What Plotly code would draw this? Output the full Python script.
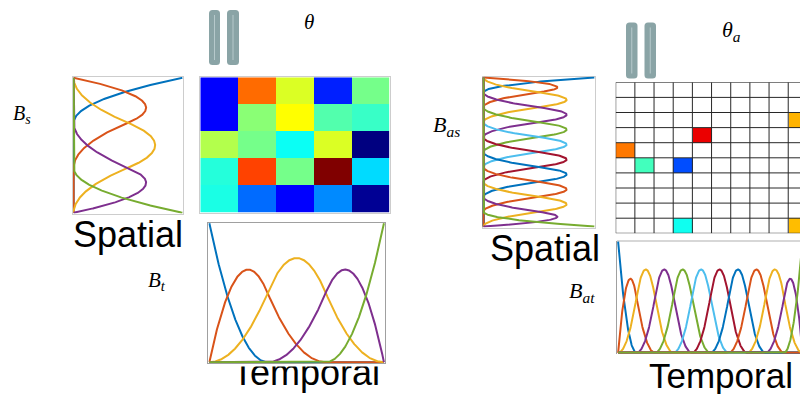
import numpy as np
import plotly.graph_objects as go

W, H = 800, 394

# ---- data -------------------------------------------------------------
# quadratic B-spline bases (clamped knot vectors)
spline_degree = 2
coarse_interior_knots = [1 / 3, 2 / 3]
fine_interior_knots = [0.1, 0.2, 0.3, 0.4, 0.5, 0.6, 0.7, 0.8, 0.9]

# coefficient matrix theta (5 x 5), jet colour values
theta = [
    [0.125, 0.77, 0.59, 0.155, 0.49],
    [0.125, 0.51, 0.625, 0.455, 0.43],
    [0.55, 0.49, 0.385, 0.59, 0.0],
    [0.41, 0.81, 0.49, 1.0, 0.34],
    [0.40, 0.23, 0.125, 0.26, 0.02],
]

# sparse coefficient matrix theta_a: (row, col, value)
theta_a_rows = [2, 3, 4, 5, 5, 9, 9]
theta_a_cols = [9, 4, 0, 1, 3, 3, 9]
theta_a_vals = [0.70, 0.895, 0.757, 0.44, 0.20, 0.39, 0.69]
theta_a_shape = (10, 10)

line_colors = ["#0072BD", "#D95319", "#EDB120", "#7E2F8E",
               "#77AC30", "#4DBEEE", "#A2142F"]

jet = [[0.0, "rgb(0,0,128)"], [0.125, "rgb(0,0,255)"],
       [0.375, "rgb(0,255,255)"], [0.625, "rgb(255,255,0)"],
       [0.875, "rgb(255,0,0)"], [1.0, "rgb(128,0,0)"]]


def bspline_basis(interior, degree, t):
    knots = np.r_[[0.0] * (degree + 1), interior, [1.0] * (degree + 1)]
    n = len(knots) - degree - 1
    # degree-0 pieces
    B = np.zeros((len(knots) - 1, len(t)))
    for i in range(len(knots) - 1):
        if knots[i] < knots[i + 1]:
            B[i] = (t >= knots[i]) & (t < knots[i + 1])
    last = np.max(np.nonzero(knots[:-1] < knots[1:]))
    B[last, t >= 1.0] = 1.0
    for p in range(1, degree + 1):
        Bn = np.zeros((len(knots) - p - 1, len(t)))
        for i in range(len(knots) - p - 1):
            d1 = knots[i + p] - knots[i]
            d2 = knots[i + p + 1] - knots[i + 1]
            a = (t - knots[i]) / d1 * B[i] if d1 > 0 else 0
            b = (knots[i + p + 1] - t) / d2 * B[i + 1] if d2 > 0 else 0
            Bn[i] = a + b
        B = Bn
    return B[:n]


t = np.linspace(0, 1, 601)
coarse = bspline_basis(coarse_interior_knots, spline_degree, t)
fine = bspline_basis(fine_interior_knots, spline_degree, t)


def px(x):
    return x / W


def py(y):
    return 1 - y / H


fig = go.Figure()

# ---- axes -------------------------------------------------------------
light = "rgb(205,205,205)"
mid = "rgb(160,160,160)"


def frame_axis(dom, rng, color, mirror=True, reverse=False, show=True):
    d = dict(domain=dom, range=rng, showgrid=False, zeroline=False,
             showticklabels=False, ticks="", showline=show, linecolor=color,
             linewidth=1, mirror=mirror, layer="below traces", fixedrange=True)
    if reverse:
        d["range"] = rng[::-1]
    return d


pad = 0.006
layout_axes = {
    # left spatial basis (rotated)
    "xaxis": frame_axis([px(73), px(183)], [-pad, 1 + pad], light),
    "yaxis": frame_axis([py(213.5), py(77)], [-pad, 1 + pad], light, reverse=True),
    # left coefficient image
    "xaxis2": frame_axis([px(200.3), px(389.5)], [-0.5, 4.5], light),
    "yaxis2": frame_axis([py(212.7), py(77.3)], [-0.5, 4.5], light, reverse=True),
    # left temporal basis
    "xaxis3": frame_axis([px(208.3), px(385)], [-pad, 1 + pad], mid),
    "yaxis3": frame_axis([py(363), py(222.5)], [-pad, 1 + pad], mid),
    # right spatial basis (rotated)
    "xaxis4": frame_axis([px(482.7), px(595)], [-pad, 1 + pad], light),
    "yaxis4": frame_axis([py(227.5), py(76.5)], [-pad, 1 + pad], light, reverse=True),
    # right sparse coefficient grid
    "xaxis5": frame_axis([px(615.7), 1.0], [-0.5, -0.5 + (800 - 615.7) / 19.17], light, show=False),
    "yaxis5": frame_axis([py(233.3), py(82.3)], [-0.5, 9.5], light, reverse=True, show=False),
    # right temporal basis
    "xaxis6": frame_axis([px(617), 1.0], [-pad, 183 / 185.5], light, mirror=False, show=False),
    "yaxis6": frame_axis([py(353.5), py(241)], [-pad, 1 + pad], mid, mirror=False),
    # strip for the clipped left caption
    "xaxis7": frame_axis([0, 1], [0, W], light, show=False),
    "yaxis7": frame_axis([0, py(366.5)], [H, 366.5], light, show=False),
}
for k in range(1, 8):
    s = "" if k == 1 else str(k)
    layout_axes["xaxis" + s]["anchor"] = "y" + s
    layout_axes["yaxis" + s]["anchor"] = "x" + s

# ---- basis curves -----------------------------------------------------
lw = 2
for i, b in enumerate(coarse):
    c = line_colors[i % len(line_colors)]
    fig.add_trace(go.Scatter(x=b, y=t, mode="lines", line=dict(color=c, width=lw),
                             xaxis="x", yaxis="y", hoverinfo="skip"))
for i, b in enumerate(coarse):
    c = line_colors[i % len(line_colors)]
    fig.add_trace(go.Scatter(x=t, y=b, mode="lines", line=dict(color=c, width=lw),
                             xaxis="x3", yaxis="y3", hoverinfo="skip"))
for i, b in enumerate(fine):
    c = line_colors[i % len(line_colors)]
    fig.add_trace(go.Scatter(x=b, y=t, mode="lines", line=dict(color=c, width=lw),
                             xaxis="x4", yaxis="y4", hoverinfo="skip"))
for i, b in enumerate(fine):
    c = line_colors[i % len(line_colors)]
    fig.add_trace(go.Scatter(x=t, y=b, mode="lines", line=dict(color=c, width=lw),
                             xaxis="x6", yaxis="y6", hoverinfo="skip"))

# top frame line of the right temporal panel
fig.add_shape(type="line", xref="x6 domain", yref="y6 domain", x0=0, x1=1, y0=1, y1=1,
              line=dict(color="rgb(215,215,215)", width=2), layer="below")

# ---- coefficient images -----------------------------------------------
fig.add_trace(go.Heatmap(z=theta, colorscale=jet, zmin=0, zmax=1, showscale=False,
                         xaxis="x2", yaxis="y2", hoverinfo="skip"))

za = np.full(theta_a_shape, np.nan)
for r, c, v in zip(theta_a_rows, theta_a_cols, theta_a_vals):
    za[r, c] = v
fig.add_trace(go.Heatmap(z=za, colorscale=jet, zmin=0, zmax=1, showscale=False,
                         xaxis="x5", yaxis="y5", hoverinfo="skip"))
nr, nc = theta_a_shape
for j in range(nc + 1):
    fig.add_shape(type="line", xref="x5", yref="y5", x0=j - 0.5, x1=j - 0.5,
                  y0=-0.5, y1=nr - 0.5, line=dict(color="rgb(40,40,40)", width=1),
                  layer="above")
for i in range(nr + 1):
    fig.add_shape(type="line", xref="x5", yref="y5", x0=-0.5, x1=nc - 0.5,
                  y0=i - 0.5, y1=i - 0.5, line=dict(color="rgb(40,40,40)", width=1),
                  layer="above")

# ---- "||" glyphs --------------------------------------------------------
bar_fill = "rgb(138,164,166)"
bar_mark = "rgb(182,201,203)"


def rounded_bar(x0, x1, y0, y1, r=3.5):
    X0, X1, Y0, Y1 = px(x0), px(x1), py(y0), py(y1)
    rx, ry = r / W, r / H
    path = (f"M {X0 + rx},{Y0} L {X1 - rx},{Y0} Q {X1},{Y0} {X1},{Y0 - ry} "
            f"L {X1},{Y1 + ry} Q {X1},{Y1} {X1 - rx},{Y1} L {X0 + rx},{Y1} "
            f"Q {X0},{Y1} {X0},{Y1 + ry} L {X0},{Y0 - ry} Q {X0},{Y0} {X0 + rx},{Y0} Z")
    fig.add_shape(type="path", path=path, xref="paper", yref="paper",
                  fillcolor=bar_fill, line=dict(width=0))
    xm = px((x0 + x1) / 2)
    fig.add_shape(type="line", xref="paper", yref="paper", x0=xm, x1=xm,
                  y0=py(y0 + 5), y1=py(y1 - 5), line=dict(color=bar_mark, width=1))


rounded_bar(209, 220, 10, 65)
rounded_bar(227, 239, 10, 65)
rounded_bar(626, 637.5, 22.5, 78.5)
rounded_bar(644.5, 656, 22.5, 78.5)

# ---- captions -----------------------------------------------------------
sans = "Liberation Sans, Arial, sans-serif"
serif = "Liberation Serif, Times New Roman, serif"


def label(text, x, y, size, family, xanchor="center"):
    fig.add_annotation(text=text, x=px(x), y=py(y), xref="paper", yref="paper",
                       showarrow=False, xanchor=xanchor, yanchor="middle",
                       font=dict(family=family, size=size, color="black"))


label("Spatial", 128, 235, 36, sans)
label("Spatial", 545, 248, 36, sans)
label("Temporal", 720.5, 375, 35, sans)

fig.add_trace(go.Scatter(x=[306], y=[376], mode="text", text=["Temporal"],
                         textfont=dict(family=sans, size=36, color="black"),
                         textposition="middle center", cliponaxis=True,
                         xaxis="x7", yaxis="y7", hoverinfo="skip"))

label("<i>B</i><sub><i>s</i></sub>", 11, 115, 20, serif, "left")
label("<i>θ</i>", 302, 22, 21, serif, "left")
label("<i>B</i><sub><i>t</i></sub>", 146, 281, 21, serif, "left")
label("<i>B</i><sub><i>as</i></sub>", 431, 126, 22, serif, "left")
label("<i>θ</i><sub><i>a</i></sub>", 720, 31, 22, serif, "left")
label("<i>B</i><sub><i>at</i></sub>", 567, 292, 22, serif, "left")

fig.update_layout(width=W, height=H, margin=dict(l=0, r=0, t=0, b=0),
                  paper_bgcolor="white", plot_bgcolor="rgba(0,0,0,0)",
                  showlegend=False, **layout_axes)

fig.write_html("out.html", config={"displayModeBar": False})
